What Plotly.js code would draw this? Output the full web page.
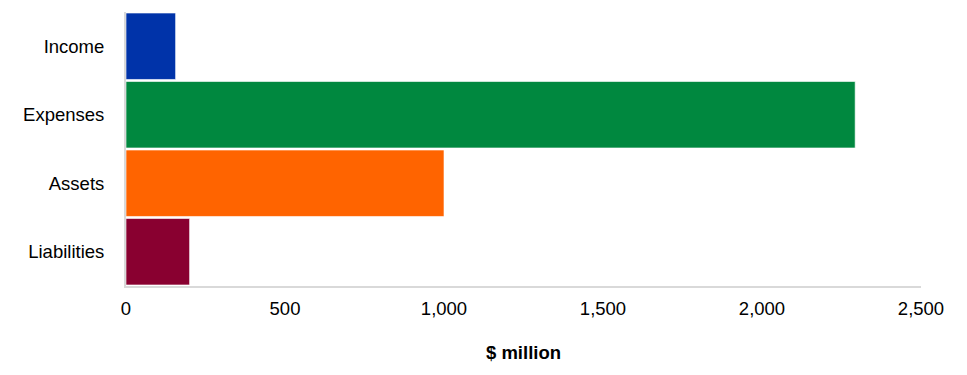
<!DOCTYPE html>
<html>
<head>
<meta charset="utf-8">
<script src="https://cdn.plot.ly/plotly-3.0.1.min.js"></script>
<style>html,body{margin:0;padding:0;background:#fff;}#chart{width:967px;height:375px;}</style>
</head>
<body>
<div id="chart"></div>
<script>
const categories = ["Income", "Expenses", "Assets", "Liabilities"];
const values = [156, 2293, 1000, 200];
const colors = ["#0033a9", "#00883f", "#ff6400", "#890030"];
const xTickVals = [0, 500, 1000, 1500, 2000, 2500];
const xTickText = ["0", "500", "1,000", "1,500", "2,000", "2,500"];

const trace = {
  type: "bar",
  orientation: "h",
  y: categories,
  x: values,
  marker: { color: colors, line: { color: "rgba(255,255,255,0.6)", width: 1 } },
  hoverinfo: "none"
};

const layout = {
  width: 967,
  height: 375,
  margin: { l: 126, r: 46, t: 12, b: 89 },
  paper_bgcolor: "#fff",
  plot_bgcolor: "#fff",
  font: { family: "Liberation Sans, Arial, sans-serif", size: 18.5, color: "#000" },
  bargap: 0.03,
  showlegend: false,
  xaxis: {
    range: [0, 2500],
    tickvals: xTickVals,
    ticktext: xTickText,
    showgrid: false,
    zeroline: false,
    showline: true,
    linecolor: "#d9d9d9",
    linewidth: 2,
    ticks: "",
    ticklabelstandoff: 5,
    title: { text: "<b>$ million</b>", standoff: 28, font: { size: 18.5 } },
    fixedrange: true
  },
  yaxis: {
    categoryorder: "array",
    categoryarray: categories,
    autorange: "reversed",
    showgrid: false,
    zeroline: false,
    showline: true,
    linecolor: "#d9d9d9",
    linewidth: 2,
    ticks: "",
    ticklabelstandoff: 16,
    fixedrange: true
  }
};

Plotly.newPlot("chart", [trace], layout, { displayModeBar: false, staticPlot: true });
</script>
</body>
</html>
